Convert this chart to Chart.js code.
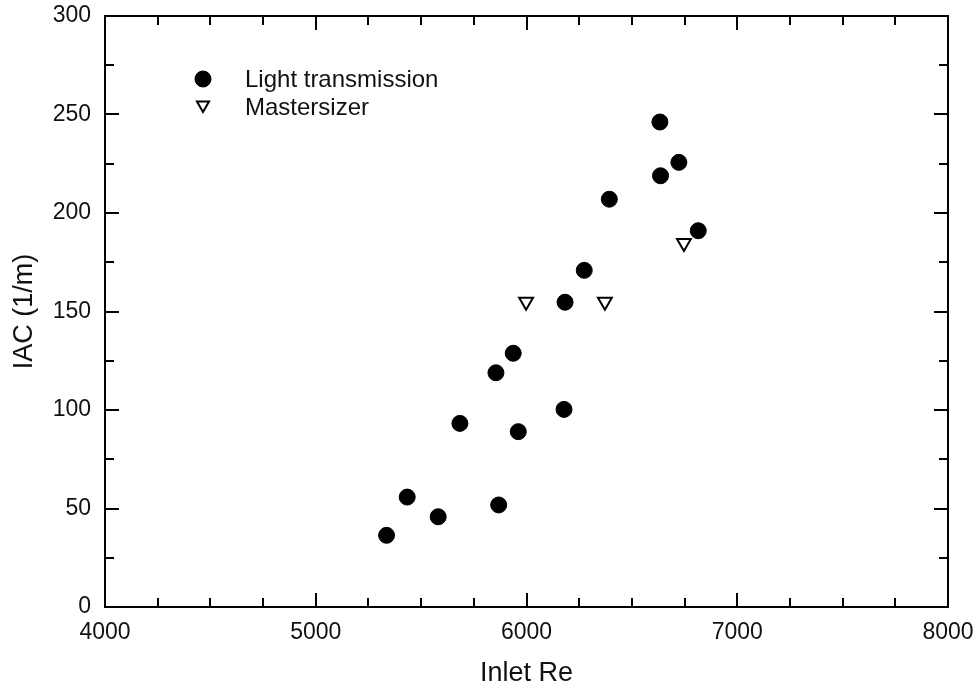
<!DOCTYPE html>
<html>
<head>
<meta charset="utf-8">
<script src="https://cdn.jsdelivr.net/npm/chart.js@4.4.1/dist/chart.umd.min.js"></script>
<style>
  html, body { margin: 0; padding: 0; background: #fff; }
  #wrap { width: 978px; height: 690px; }
</style>
</head>
<body>
<div id="wrap"><canvas id="c" width="978" height="690"></canvas></div>
<script>
// ---- data ----
const lightRe  = [5336, 5434, 5581, 5684, 5855, 5937, 5868, 5961, 6178, 6183, 6274, 6393, 6636, 6633, 6723, 6815];
const lightIAC = [36.4, 55.8, 45.8, 93.2, 118.9, 128.8, 51.8, 89.0, 100.3, 154.7, 170.9, 207.0, 218.9, 246.2, 225.7, 191.0];
const masterRe  = [5998, 6372, 6747];
const masterIAC = [155.0, 155.0, 184.8];
const seriesNames = ["Light transmission", "Mastersizer"];
const xTitle = "Inlet Re";
const yTitle = "IAC (1/m)";
const xRange = [4000, 8000], xMajor = 1000, xMinor = 250;
const yRange = [0, 300], yMajor = 50, yMinor = 25;

const FONT = "'Liberation Sans', Arial, sans-serif";
const toPts = (xs, ys) => xs.map((x, i) => ({ x, y: ys[i] }));
const noPad = s => { s.paddingLeft = 0; s.paddingRight = 0; s.paddingTop = 0; s.paddingBottom = 0; };

const frameTicks = {
  id: 'frameTicks',
  afterDraw(chart) {
    const { ctx, chartArea: a, scales: { x, y } } = chart;
    ctx.save();
    ctx.strokeStyle = '#000';
    ctx.lineWidth = 2;
    ctx.strokeRect(a.left, a.top, a.right - a.left, a.bottom - a.top);
    ctx.beginPath();
    for (let v = xRange[0] + xMinor; v < xRange[1]; v += xMinor) {
      const px = Math.round(x.getPixelForValue(v));
      const len = (v % xMajor === 0) ? 14 : 9;
      ctx.moveTo(px, a.bottom); ctx.lineTo(px, a.bottom - len);
      ctx.moveTo(px, a.top); ctx.lineTo(px, a.top + len);
    }
    for (let v = yRange[0] + yMinor; v < yRange[1]; v += yMinor) {
      const py = Math.round(y.getPixelForValue(v));
      const len = (v % yMajor === 0) ? 14 : 9;
      ctx.moveTo(a.left, py); ctx.lineTo(a.left + len, py);
      ctx.moveTo(a.right, py); ctx.lineTo(a.right - len, py);
    }
    ctx.stroke();

    // legend inside plot
    const lx = a.left + 98;
    const rows = [a.top + 63, a.top + 89];
    const textY = [a.top + 64, a.top + 92];
    chart.data.datasets.forEach((ds, i) => {
      ctx.fillStyle = ds.backgroundColor;
      ctx.strokeStyle = ds.borderColor;
      ctx.lineWidth = ds.borderWidth;
      Chart.helpers.drawPoint(ctx, {
        pointStyle: ds.pointStyle,
        radius: i === 0 ? ds.pointRadius : ds.pointRadius - 1,
        rotation: ds.rotation || 0,
        borderWidth: ds.borderWidth
      }, lx, rows[i]);
      ctx.fillStyle = '#111';
      ctx.font = "24px " + FONT;
      ctx.textBaseline = 'middle';
      ctx.textAlign = 'left';
      ctx.fillText(ds.label, lx + 42, textY[i]);
    });
    ctx.restore();
  }
};

new Chart(document.getElementById('c'), {
  type: 'scatter',
  data: {
    datasets: [
      {
        label: seriesNames[0],
        data: toPts(lightRe, lightIAC),
        pointStyle: 'circle',
        pointRadius: 8,
        backgroundColor: '#000',
        borderColor: '#000',
        borderWidth: 1
      },
      {
        label: seriesNames[1],
        data: toPts(masterRe, masterIAC),
        pointStyle: 'triangle',
        rotation: 180,
        pointRadius: 8,
        backgroundColor: '#fff',
        borderColor: '#000',
        borderWidth: 2
      }
    ]
  },
  options: {
    responsive: false,
    animation: false,
    devicePixelRatio: 1,
    layout: { padding: { left: 0, right: 30, top: 16, bottom: 0 } },
    plugins: { legend: { display: false }, tooltip: { enabled: false } },
    scales: {
      x: {
        type: 'linear',
        min: xRange[0], max: xRange[1],
        afterFit(s) { s.height = 83; noPad(s); },
        ticks: { stepSize: xMajor, color: '#111', font: { family: FONT, size: 23 }, padding: 12, maxRotation: 0,
                 callback: v => String(v) },
        grid: { drawOnChartArea: false, drawTicks: false },
        border: { display: true, color: '#000', width: 2 },
        title: { display: true, text: xTitle, color: '#111', font: { family: FONT, size: 27 }, padding: { top: 0, bottom: 0 } }
      },
      y: {
        type: 'linear',
        min: yRange[0], max: yRange[1],
        afterFit(s) { s.width = 105; noPad(s); },
        ticks: { stepSize: yMajor, color: '#111', font: { family: FONT, size: 23 }, padding: 14,
                 callback: v => String(v) },
        grid: { drawOnChartArea: false, drawTicks: false },
        border: { display: true, color: '#000', width: 2 },
        title: { display: true, text: yTitle, color: '#111', font: { family: FONT, size: 27 }, padding: { top: 8, bottom: 0 } }
      }
    }
  },
  plugins: [frameTicks]
});
</script>
</body>
</html>
